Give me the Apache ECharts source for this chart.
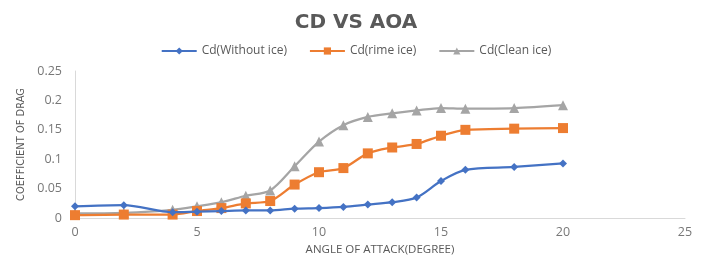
<!DOCTYPE html>
<html><head><meta charset="utf-8">
<script src="https://cdn.jsdelivr.net/npm/echarts@6/dist/echarts.min.js"></script>
<style>html,body{margin:0;padding:0;background:#fff}#c{width:712px;height:261px}</style>
</head><body><div id="c"></div>
<script>
const aoa = [0,2,4,5,6,7,8,9,10,11,12,13,14,15,16,18,20];
const cdWithout = [0.020,0.022,0.010,0.011,0.012,0.013,0.013,0.016,0.017,0.019,0.023,0.027,0.035,0.063,0.082,0.087,0.093];
const cdRime = [0.005,0.006,0.006,0.012,0.017,0.025,0.029,0.057,0.078,0.085,0.110,0.120,0.126,0.140,0.150,0.152,0.153];
const cdClean = [0.008,0.009,0.014,0.020,0.027,0.038,0.047,0.088,0.130,0.158,0.172,0.178,0.183,0.187,0.186,0.187,0.192];
const seriesNames = ['Cd(Without ice)','Cd(rime ice)','Cd(Clean ice)'];
const pair = arr => aoa.map((x,i)=>[x,arr[i]]);
const chart = echarts.init(document.getElementById('c'));
const txt = '#595959';
chart.setOption({
  animation:false,
  title:{text:'CD VS AOA',left:'center',top:8,textStyle:{fontFamily:'DejaVu Sans',fontWeight:'bold',fontSize:20,color:txt}},
  legend:{top:40,left:'center',itemGap:22,itemWidth:35,itemHeight:9,textStyle:{fontFamily:'Open Sans',fontSize:12,color:txt},
    data:seriesNames},
  grid:{left:75,right:27,top:71,bottom:40},
  xAxis:{type:'value',min:0,max:25,interval:5,name:'ANGLE OF ATTACK(DEGREE)',nameLocation:'middle',nameGap:22,
    nameTextStyle:{fontFamily:'Open Sans',fontSize:11.5,color:txt},
    axisLine:{lineStyle:{color:'#d9d9d9'}},axisTick:{show:false},splitLine:{show:false},
    axisLabel:{fontFamily:'Open Sans',fontSize:12.5,color:'#777777',margin:8}},
  yAxis:{type:'value',min:0,max:0.25,interval:0.05,name:'COEFFICIENT OF DRAG',nameLocation:'middle',nameGap:48,
    nameTextStyle:{fontFamily:'"DejaVu Sans Condensed"',fontSize:11,color:txt},
    axisLine:{show:true,lineStyle:{color:'#d9d9d9'}},axisTick:{show:false},splitLine:{show:false},
    axisLabel:{fontFamily:'Open Sans',fontSize:12.5,color:'#777777',margin:13,formatter:v=>String(+v.toFixed(2))}},
  series:[
    {name:seriesNames[0],type:'line',data:pair(cdWithout),smooth:0.3,symbol:'diamond',symbolSize:8,
      itemStyle:{color:'#4472c4'},lineStyle:{width:2.25,color:'#4472c4'},z:3},
    {name:seriesNames[1],type:'line',data:pair(cdRime),smooth:0.3,symbol:'rect',symbolSize:10,
      itemStyle:{color:'#ed7d31'},lineStyle:{width:2.25,color:'#ed7d31'},z:2},
    {name:seriesNames[2],type:'line',data:pair(cdClean),smooth:0.3,symbol:'triangle',symbolSize:10,
      itemStyle:{color:'#a5a5a5'},lineStyle:{width:2.25,color:'#a5a5a5'},z:1}
  ]
});
</script></body></html>
